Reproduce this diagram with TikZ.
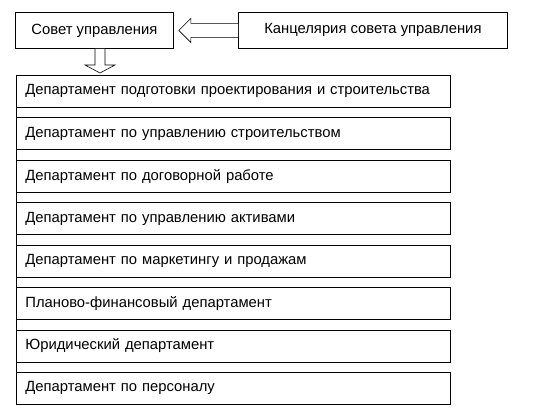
\documentclass[tikz,border=0pt]{standalone}
\usepackage{fontspec}
\setmainfont{Liberation Sans}
\usetikzlibrary{calc}
\tikzset{
  topbox/.style={draw, line width=0.8pt, minimum height=36pt, inner sep=0pt, font=\fontsize{14.8}{17}\selectfont, anchor=north west},
  deptbox/.style={draw, line width=0.8pt, minimum height=32pt, text width=416pt, inner xsep=9pt, inner ysep=0pt, align=left, font=\fontsize{14.8}{17}\selectfont, anchor=north west},
  hollow/.style={draw, line width=0.6pt, fill=white},
}
\begin{document}
\begin{tikzpicture}[x=1pt,y=1pt]
\useasboundingbox (0,0) rectangle (541,-410);
\node[topbox, minimum width=158pt] (sovet) at (15,-12) {Совет управления};
\node[topbox, minimum width=269pt] (kanc) at (238,-12) {Канцелярия совета управления};
\foreach \t/\n [count=\i from 0] in {
  Департамент подготовки проектирования и строительства/d1,
  Департамент по управлению строительством/d2,
  Департамент по договорной работе/d3,
  Департамент по управлению активами/d4,
  Департамент по маркетингу и продажам/d5,
  Планово-финансовый департамент/d6,
  Юридический департамент/d7,
  Департамент по персоналу/d8}
  \node[deptbox] (\n) at (16,-75-42.43*\i) {\t};
\draw[line width=0.8pt] (d1.north west) -- (d8.south west);
% left hollow arrow
\coordinate (lt) at ($(sovet.east)+(5,0)$);
\draw[hollow] (kanc.west) ++(0,7) -- ($(lt)+(12,7)$) -- ($(lt)+(12,12)$) -- (lt) -- ($(lt)+(12,-12)$) -- ($(lt)+(12,-7)$) -- ($(kanc.west)+(0,-7)$);
% down hollow arrow
\coordinate (dtop) at (sovet.south west -| 100,0);
\coordinate (dt) at ($(d1.north west -| 100,0)+(0,2)$);
\draw[hollow] ($(dtop)+(-5,0)$) -- ($(dt)+(-5,8)$) -- ($(dt)+(-15,8)$) -- (dt) -- ($(dt)+(15,8)$) -- ($(dt)+(5,8)$) -- ($(dtop)+(5,0)$);
\end{tikzpicture}
\end{document}
